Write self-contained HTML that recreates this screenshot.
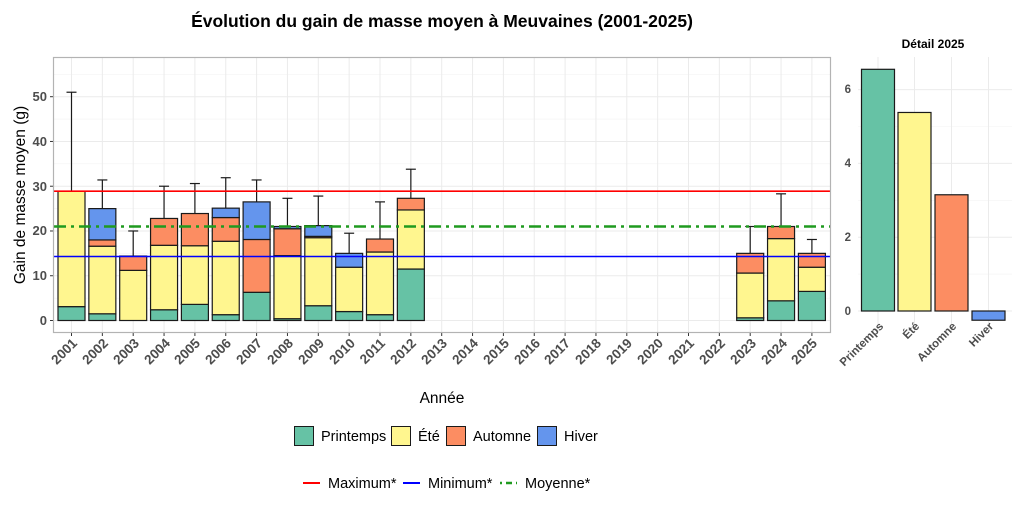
<!DOCTYPE html>
<html><head><meta charset="utf-8"><style>
body{margin:0;background:#fff;}
svg{display:block;font-family:"Liberation Sans",sans-serif;}
</style></head><body>
<svg id="s" width="1024" height="512" viewBox="0 0 1024 512">
<rect width="1024" height="512" fill="#fff"/>
<text x="442" y="27" font-size="17.5" font-weight="bold" text-anchor="middle">Évolution du gain de masse moyen à Meuvaines (2001-2025)</text>
<text x="933" y="48" font-size="12" font-weight="bold" text-anchor="middle">Détail 2025</text>
<g id="grid"></g>
<g id="bars"></g>
<rect x="53.5" y="57.5" width="777" height="275" fill="none" stroke="#b3b3b3" stroke-width="1.2"/>
<g font-size="13" font-weight="bold" fill="#4d4d4d" text-anchor="end">
<text x="47" y="325">0</text><text x="47" y="280">10</text><text x="47" y="235">20</text><text x="47" y="191">30</text><text x="47" y="146">40</text><text x="47" y="101">50</text>
</g>
<text transform="translate(25,195) rotate(-90)" font-size="15.5" text-anchor="middle">Gain de masse moyen (g)</text>
<g font-size="13.5" font-weight="bold" fill="#4d4d4d" text-anchor="end">
<text transform="translate(78,344) rotate(-45)">2001</text>
<text transform="translate(109,344) rotate(-45)">2002</text>
<text transform="translate(140,344) rotate(-45)">2003</text>
<text transform="translate(171,344) rotate(-45)">2004</text>
<text transform="translate(201,344) rotate(-45)">2005</text>
<text transform="translate(232,344) rotate(-45)">2006</text>
<text transform="translate(263,344) rotate(-45)">2007</text>
<text transform="translate(294,344) rotate(-45)">2008</text>
<text transform="translate(325,344) rotate(-45)">2009</text>
<text transform="translate(356,344) rotate(-45)">2010</text>
<text transform="translate(386,344) rotate(-45)">2011</text>
<text transform="translate(417,344) rotate(-45)">2012</text>
<text transform="translate(448,344) rotate(-45)">2013</text>
<text transform="translate(479,344) rotate(-45)">2014</text>
<text transform="translate(510,344) rotate(-45)">2015</text>
<text transform="translate(541,344) rotate(-45)">2016</text>
<text transform="translate(571,344) rotate(-45)">2017</text>
<text transform="translate(602,344) rotate(-45)">2018</text>
<text transform="translate(633,344) rotate(-45)">2019</text>
<text transform="translate(664,344) rotate(-45)">2020</text>
<text transform="translate(695,344) rotate(-45)">2021</text>
<text transform="translate(726,344) rotate(-45)">2022</text>
<text transform="translate(757,344) rotate(-45)">2023</text>
<text transform="translate(788,344) rotate(-45)">2024</text>
<text transform="translate(818,344) rotate(-45)">2025</text>
</g>
<text x="442" y="403" font-size="15.5" text-anchor="middle">Année</text>
<g font-size="11.5" font-weight="bold" fill="#4d4d4d" text-anchor="end">
<text x="851" y="315">0</text><text x="851" y="241">2</text><text x="851" y="167">4</text><text x="851" y="93">6</text>
<text transform="translate(884,327) rotate(-45)">Printemps</text>
<text transform="translate(920,327) rotate(-45)">Été</text>
<text transform="translate(957,327) rotate(-45)">Automne</text>
<text transform="translate(994,327) rotate(-45)">Hiver</text>
</g>
<g stroke="#1a1a1a" stroke-width="1">
<rect x="294.5" y="426.5" width="19" height="19" fill="#66c2a5"/>
<rect x="391.5" y="426.5" width="19" height="19" fill="#fff68f"/>
<rect x="446.5" y="426.5" width="19" height="19" fill="#fc8d62"/>
<rect x="537.5" y="426.5" width="19" height="19" fill="#6495ed"/>
</g>
<g font-size="14.5">
<text x="321" y="441">Printemps</text><text x="418" y="441">Été</text><text x="473" y="441">Automne</text><text x="564" y="441">Hiver</text>
<text x="328" y="488">Maximum*</text><text x="428" y="488">Minimum*</text><text x="525" y="488">Moyenne*</text>
</g>
<line x1="303" y1="483" x2="320" y2="483" stroke="red" stroke-width="2"/>
<line x1="403" y1="483" x2="420" y2="483" stroke="blue" stroke-width="2"/>
<line x1="500" y1="483" x2="517" y2="483" stroke="#1f9a1f" stroke-width="2.5" stroke-dasharray="2,4,6,4"/>
</svg>
<script>
(function(){
var NS="http://www.w3.org/2000/svg";
function el(p,t,a){var e=document.createElementNS(NS,t);for(var k in a)e.setAttribute(k,a[k]);p.appendChild(e);return e;}
var G=document.getElementById('grid'),B=document.getElementById('bars');
function Y(v){return 320.5-4.476*v;}
function X(i){return 71.5+30.85*i;}
var gc="#ebebeb";
for(var v=5;v<=55;v+=10)el(G,'line',{x1:54,x2:830,y1:Y(v),y2:Y(v),stroke:"#f3f3f3","stroke-width":0.6});
for(var v=0;v<=50;v+=10)el(G,'line',{x1:54,x2:830,y1:Y(v),y2:Y(v),stroke:gc,"stroke-width":1});
for(var i=0;i<25;i++)el(G,'line',{x1:X(i),x2:X(i),y1:58,y2:332,stroke:gc,"stroke-width":1});
for(var i=0;i<25;i++)el(G,'line',{x1:X(i),x2:X(i),y1:332,y2:336,stroke:"#333","stroke-width":1});
[0,10,20,30,40,50].forEach(function(v){el(G,'line',{x1:50,x2:53,y1:Y(v),y2:Y(v),stroke:"#333"});});
var C=["#66c2a5","#fff68f","#fc8d62","#6495ed"];
var D={0:[3.1,28.9,28.9,28.9,51],1:[1.5,16.6,18,25,31.4],2:[0,11.2,14.4,14.4,20],3:[2.4,16.8,22.8,22.8,30],4:[3.6,16.7,23.9,23.9,30.6],5:[1.3,17.7,23,25.1,31.9],6:[6.3,6.3,18.1,26.5,31.4],7:[0.4,14.5,20.5,21,27.3],8:[3.3,18.5,18.8,21.2,27.8],9:[2,11.9,11.9,15,19.5],10:[1.3,15.3,18.2,18.2,26.5],11:[11.5,24.7,27.3,27.3,33.8],22:[0.6,10.6,15,15,21],23:[4.4,18.3,21,21,28.3],24:[6.5,11.9,15,15,18.1]};
for(var k in D){var d=D[k],x=X(+k),prev=0;
 for(var s=0;s<4;s++){if(d[s]>prev){el(B,'rect',{x:x-13.5,y:Y(d[s]),width:27,height:Y(prev)-Y(d[s]),fill:C[s],stroke:"#1a1a1a","stroke-width":1.2});}prev=Math.max(prev,d[s]);}
 var tp=d[3];el(B,'line',{x1:x,x2:x,y1:Y(tp),y2:Y(d[4]),stroke:"#1a1a1a","stroke-width":1.2});
 el(B,'line',{x1:x-5,x2:x+5,y1:Y(d[4]),y2:Y(d[4]),stroke:"#1a1a1a","stroke-width":1.2});}
el(B,'line',{x1:54,x2:830,y1:Y(28.9),y2:Y(28.9),stroke:"red","stroke-width":1.6});
el(B,'line',{x1:54,x2:830,y1:Y(14.3),y2:Y(14.3),stroke:"blue","stroke-width":1.6});
el(B,'line',{x1:54,x2:830,y1:Y(21),y2:Y(21),stroke:"#1f9a1f","stroke-width":2.4,"stroke-dasharray":"12,5,3,5"});
function Y2(v){return 311-36.9*v;}
for(var v=1;v<=5;v+=2)el(G,'line',{x1:858,x2:1012,y1:Y2(v),y2:Y2(v),stroke:"#f3f3f3","stroke-width":0.6});
for(var v=0;v<=6;v+=2)el(G,'line',{x1:858,x2:1012,y1:Y2(v),y2:Y2(v),stroke:gc});
[878,914.5,951.5,988.5].forEach(function(x){el(G,'line',{x1:x,x2:x,y1:57,y2:332,stroke:gc});});
var V=[6.55,5.38,3.15,-0.25],XC=[878,914.5,951.5,988.5];
for(var i=0;i<4;i++){var a=Math.min(Y2(0),Y2(V[i])),b=Math.max(Y2(0),Y2(V[i]));el(B,'rect',{x:XC[i]-16.5,y:a,width:33,height:b-a,fill:C[i],stroke:"#1a1a1a","stroke-width":1.2});}
})();
</script>
</body></html>
